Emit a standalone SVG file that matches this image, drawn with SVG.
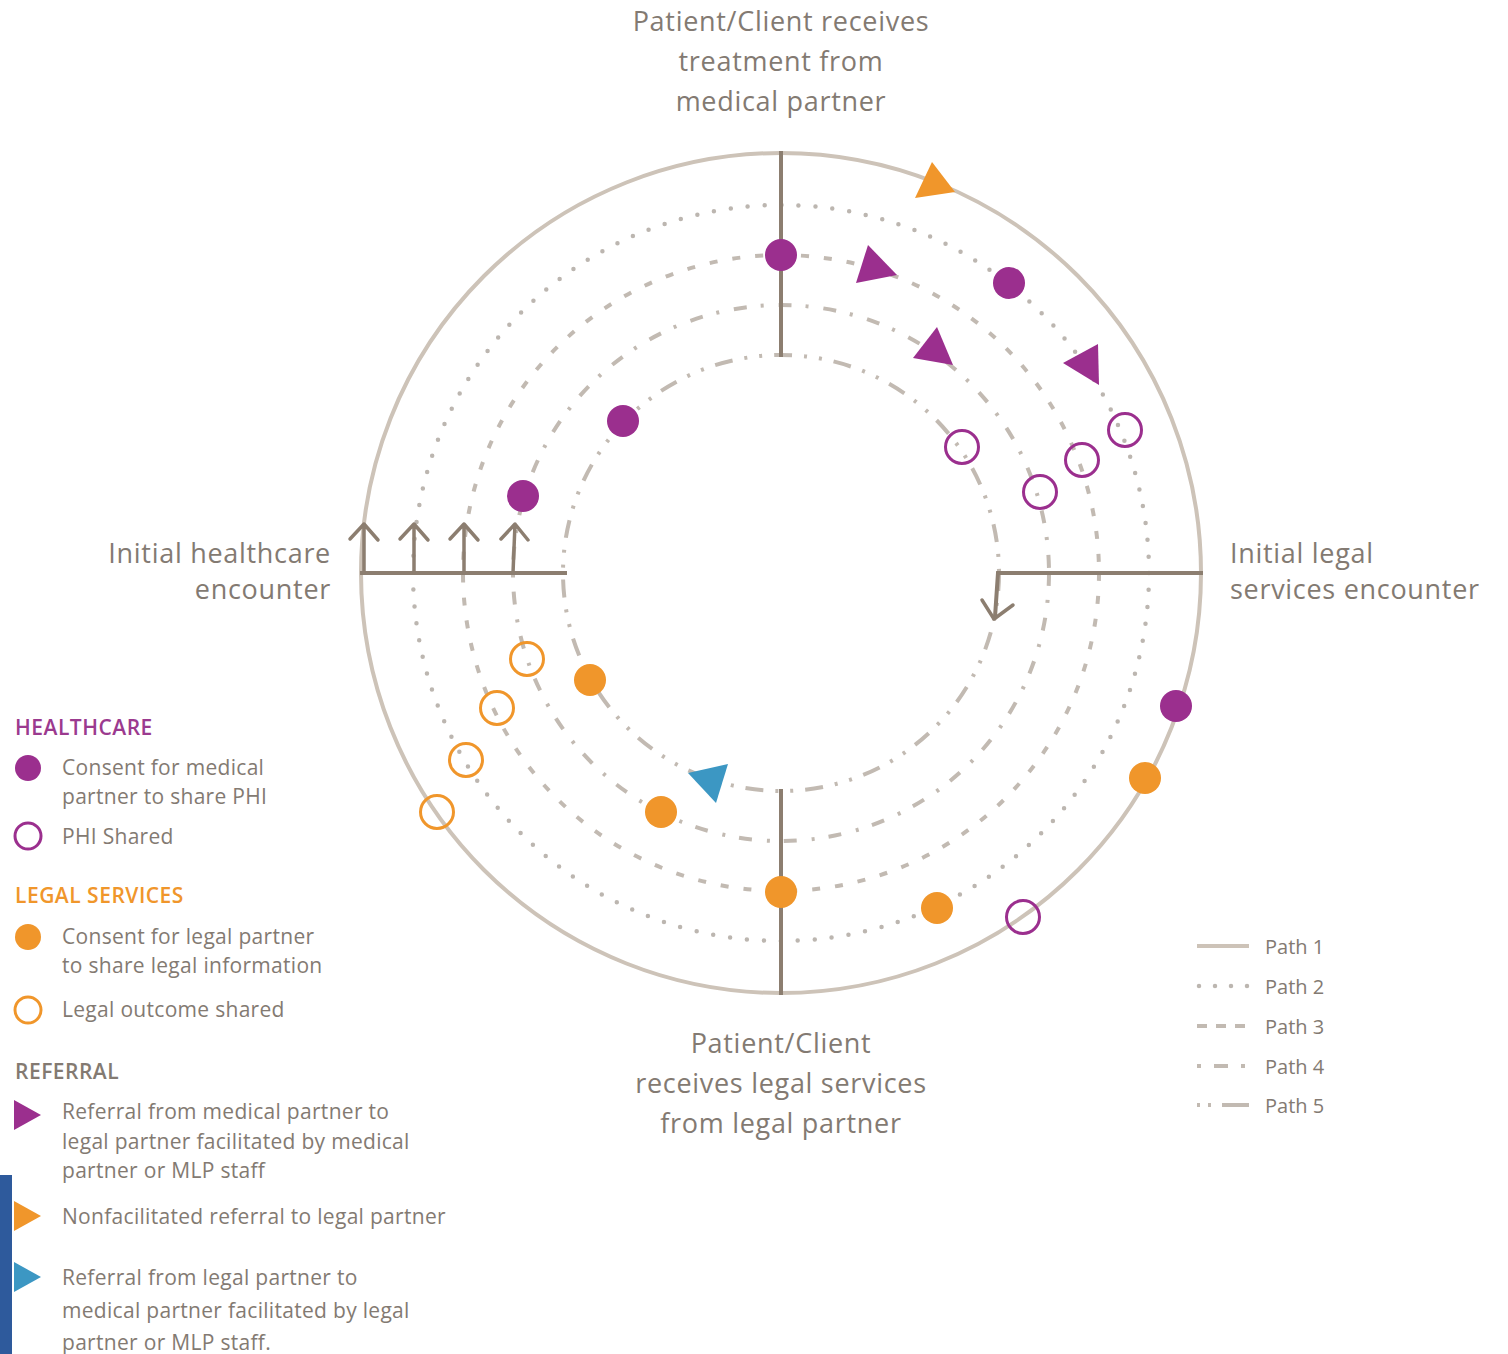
<svg xmlns="http://www.w3.org/2000/svg" width="1508" height="1354" viewBox="0 0 1508 1354">
<style>
text{font-family:"Open Sans",Lato,"Liberation Sans",sans-serif;fill:#837a72}
.big{font-size:27px;letter-spacing:0.7px}
.lg{font-size:21px;letter-spacing:0.3px}
.hd{font-size:21px;font-weight:600;letter-spacing:0.5px}
.pth{font-size:20px}
.ring{fill:none;stroke:#c2bab2;stroke-width:4}
.p1{stroke:#cdc3b8;stroke-width:4}
.p2{stroke-dasharray:0 17;stroke-linecap:round;stroke:#bcb6b0;stroke-width:4.5}
.p3{stroke-dasharray:8 15}
.p4{stroke-dasharray:13 14 3 15}
.p5{stroke-dasharray:18 12 3 12 3 12}
.rad{stroke:#8c7e70;stroke-width:4;fill:none;stroke-linecap:square}
.arr{stroke:#8c7e70;stroke-width:3.5;fill:none;stroke-linecap:round;stroke-linejoin:round}
.pf{fill:#9b2f8e}
.po{fill:none;stroke:#9b2f8e;stroke-width:3}
.of{fill:#f0962b}
.oo{fill:none;stroke:#f0962b;stroke-width:3}
.bl{fill:#3c97c3}
</style>
<rect width="1508" height="1354" fill="#ffffff"/>
<rect x="0" y="1175" width="12" height="179" fill="#2e5a9c"/>

<g id="connectors">
  <circle class="ring p1" cx="781" cy="573" r="420"/>
  <circle class="ring p2" cx="781" cy="573" r="368"/>
  <circle class="ring p3" cx="781" cy="573" r="318"/>
  <circle class="ring p4" cx="781" cy="573" r="268"/>
  <circle class="ring p5" cx="781" cy="573" r="218"/>
  <line class="rad" x1="781" y1="153" x2="781" y2="355"/>
  <line class="rad" x1="781" y1="791" x2="781" y2="993"/>
  <line class="rad" x1="362" y1="573" x2="565" y2="573"/>
  <polyline class="rad" points="1201,573 998,573 995,617"/>
  <path class="arr" d="M364 573V524M350 539L364 524L378 540"/>
  <path class="arr" d="M414 573V524M400 539L414 524L428 540"/>
  <path class="arr" d="M464 573V524M450 539L464 524L478 540"/>
  <path class="arr" d="M513 573L515 524M501 539L515 524L528 540"/>
  <path class="arr" d="M982 600L994 619L1013 605"/>
</g>

<g id="markers">
  <circle class="pf" cx="781" cy="255" r="16"/>
  <circle class="pf" cx="1009" cy="283" r="16"/>
  <circle class="pf" cx="623" cy="421" r="16"/>
  <circle class="pf" cx="523" cy="496" r="16"/>
  <circle class="pf" cx="1176" cy="706" r="16"/>
  <circle class="po" cx="962" cy="447" r="16.5"/>
  <circle class="po" cx="1125" cy="430" r="16.5"/>
  <circle class="po" cx="1082" cy="460" r="16.5"/>
  <circle class="po" cx="1040" cy="492" r="16.5"/>
  <circle class="po" cx="1023" cy="917" r="16.5"/>
  <circle class="of" cx="590" cy="680" r="16"/>
  <circle class="of" cx="661" cy="812" r="16"/>
  <circle class="of" cx="781" cy="892" r="16"/>
  <circle class="of" cx="937" cy="908" r="16"/>
  <circle class="of" cx="1145" cy="778" r="16"/>
  <circle class="oo" cx="527" cy="659" r="16.5"/>
  <circle class="oo" cx="497" cy="708" r="16.5"/>
  <circle class="oo" cx="466" cy="760" r="16.5"/>
  <circle class="oo" cx="437" cy="812" r="16.5"/>
  <polygon class="of" points="932,162 915,198 955,192"/>
  <polygon class="pf" points="868,245 856,283 897,275"/>
  <polygon class="pf" points="937,327 913,358 953,365"/>
  <polygon class="pf" points="1098,344 1063,363 1099,385"/>
  <polygon class="bl" points="728,764 688,773 716,803"/>
</g>

<g id="label-top">
  <text class="big" x="781" y="31" text-anchor="middle">Patient/Client receives</text>
  <text class="big" x="781" y="71" text-anchor="middle">treatment from</text>
  <text class="big" x="781" y="111" text-anchor="middle">medical partner</text>
</g>
<g id="label-left">
  <text class="big" x="331" y="563" text-anchor="end">Initial healthcare</text>
  <text class="big" x="331" y="599" text-anchor="end">encounter</text>
</g>
<g id="label-right">
  <text class="big" x="1230" y="563">Initial legal</text>
  <text class="big" x="1230" y="599">services encounter</text>
</g>
<g id="label-bottom">
  <text class="big" x="781" y="1053" text-anchor="middle">Patient/Client</text>
  <text class="big" x="781" y="1093" text-anchor="middle">receives legal services</text>
  <text class="big" x="781" y="1133" text-anchor="middle">from legal partner</text>
</g>

<g id="legend-healthcare">
  <text class="hd" x="15" y="735" style="fill:#9b3a8f">HEALTHCARE</text>
  <circle class="pf" cx="28" cy="768" r="13"/>
  <text class="lg" x="62" y="775">Consent for medical</text>
  <text class="lg" x="62" y="804">partner to share PHI</text>
  <circle class="po" cx="28" cy="836" r="13"/>
  <text class="lg" x="62" y="844">PHI Shared</text>
</g>
<g id="legend-legal">
  <text class="hd" x="15" y="903" style="fill:#f0962b">LEGAL SERVICES</text>
  <circle class="of" cx="28" cy="937" r="13"/>
  <text class="lg" x="62" y="944">Consent for legal partner</text>
  <text class="lg" x="62" y="973">to share legal information</text>
  <circle class="oo" cx="28" cy="1010" r="13"/>
  <text class="lg" x="62" y="1017">Legal outcome shared</text>
</g>
<g id="legend-referral">
  <text class="hd" x="15" y="1079">REFERRAL</text>
  <polygon class="pf" points="14,1100 41,1115 14,1130"/>
  <text class="lg" x="62" y="1119">Referral from medical partner to</text>
  <text class="lg" x="62" y="1149">legal partner facilitated by medical</text>
  <text class="lg" x="62" y="1178">partner or MLP staff</text>
  <polygon class="of" points="14,1201 41,1216 14,1231"/>
  <text class="lg" x="62" y="1224">Nonfacilitated referral to legal partner</text>
  <polygon class="bl" points="14,1262 41,1277 14,1292"/>
  <text class="lg" x="62" y="1285">Referral from legal partner to</text>
  <text class="lg" x="62" y="1318">medical partner facilitated by legal</text>
  <text class="lg" x="62" y="1350">partner or MLP staff.</text>
</g>
<g id="legend-paths">
  <line class="ring p1" x1="1197" y1="946" x2="1249" y2="946"/>
  <text class="pth" x="1265" y="954">Path 1</text>
  <line class="ring p2" x1="1199" y1="986" x2="1248" y2="986" style="stroke-dasharray:0 16"/>
  <text class="pth" x="1265" y="994">Path 2</text>
  <line class="ring" x1="1197" y1="1026" x2="1249" y2="1026" style="stroke-dasharray:10 9"/>
  <text class="pth" x="1265" y="1034">Path 3</text>
  <line class="ring" x1="1197" y1="1066" x2="1249" y2="1066" style="stroke-dasharray:4 13 14 13 4"/>
  <text class="pth" x="1265" y="1074">Path 4</text>
  <line class="ring" x1="1197" y1="1105" x2="1249" y2="1105" style="stroke-dasharray:3 8 3 11 27"/>
  <text class="pth" x="1265" y="1113">Path 5</text>
</g>
</svg>
